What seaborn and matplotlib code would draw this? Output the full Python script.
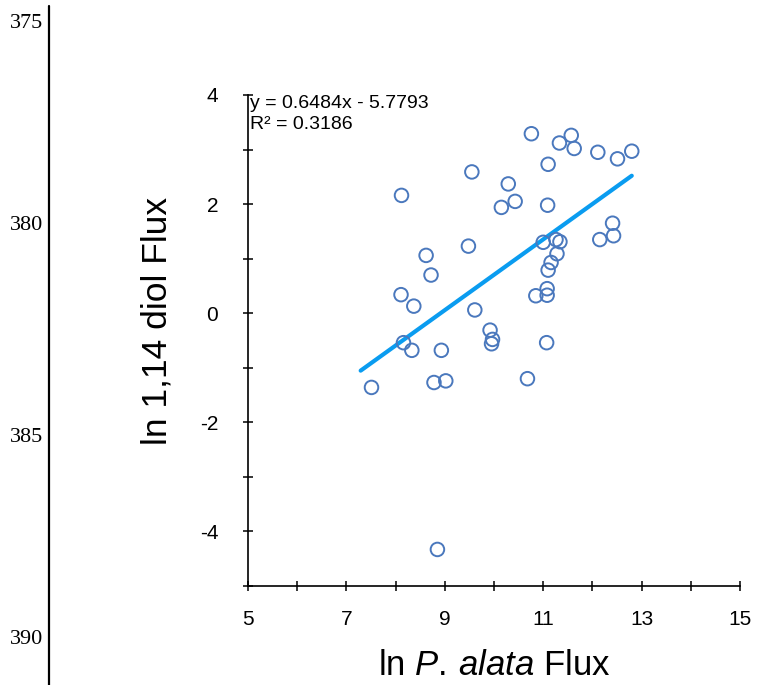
import numpy as np
import pandas as pd
import matplotlib
matplotlib.use("Agg")
import matplotlib.pyplot as plt
import seaborn as sns

# ---- data ----
ln_palata = [9.55, 8.12, 10.15, 9.48, 8.62, 8.72, 8.11, 8.37, 9.61,
             10.76, 11.33, 11.57, 11.63, 12.11, 12.51, 12.80, 11.10, 10.29,
             10.43, 11.09, 12.41, 12.43, 12.15, 11.00, 11.26, 11.34, 11.28,
             11.16, 11.10, 11.08, 10.85, 11.08, 11.07, 9.92, 9.97, 9.95,
             8.16, 8.33, 8.93, 7.51, 8.78, 9.02, 10.68, 8.85]
ln_diol = [2.59, 2.16, 1.94, 1.23, 1.06, 0.70, 0.34, 0.13, 0.06,
           3.29, 3.12, 3.26, 3.02, 2.95, 2.83, 2.97, 2.73, 2.37,
           2.05, 1.98, 1.65, 1.42, 1.35, 1.30, 1.35, 1.31, 1.09,
           0.93, 0.79, 0.45, 0.32, 0.33, -0.54, -0.31, -0.48, -0.56,
           -0.54, -0.68, -0.68, -1.36, -1.27, -1.24, -1.20, -4.33]
trend_slope = 0.6484
trend_intercept = -5.7793
trend_x = [7.29, 12.80]
equation_text = "y = 0.6484x - 5.7793"
r2_text = "R² = 0.3186"
x_ticks = [5, 6, 7, 8, 9, 10, 11, 12, 13, 14, 15]
x_tick_labels = ["5", "", "7", "", "9", "", "11", "", "13", "", "15"]
y_ticks = [-5, -4, -3, -2, -1, 0, 1, 2, 3, 4]
y_tick_labels = ["", "-4", "", "-2", "", "0", "", "2", "", "4"]
line_numbers = ["375", "380", "385", "390"]
line_number_y_px = [24, 226, 437, 640]

# ---- style ----
sns.set_style("ticks")
plt.rcParams["font.family"] = ["Liberation Sans", "DejaVu Sans"]
plt.rcParams["axes.unicode_minus"] = False
plt.rcParams["mathtext.fontset"] = "custom"
plt.rcParams["mathtext.rm"] = "Liberation Sans"
plt.rcParams["mathtext.it"] = "Liberation Sans:italic"

W, H = 759, 685
fig = plt.figure(figsize=(W / 100, H / 100), dpi=100)
ax_l, ax_r, ax_t, ax_b = 248, 740, 95, 586
ax = fig.add_axes([ax_l / W, 1 - ax_b / H, (ax_r - ax_l) / W, (ax_b - ax_t) / H])

df = pd.DataFrame({"x": ln_palata, "y": ln_diol})
sns.scatterplot(data=df, x="x", y="y", ax=ax, marker="o", s=95,
                facecolor="none", edgecolor="#4a78bd", linewidth=1.4, zorder=3)

tx = np.array(trend_x)
trend_df = pd.DataFrame({"x": tx, "y": trend_slope * tx + trend_intercept})
sns.lineplot(data=trend_df, x="x", y="y", ax=ax, color="#0a9cf0", linewidth=3.0, zorder=2)

ax.set_xlim(5, 15)
ax.set_ylim(-5, 4)
ax.set_xticks(x_ticks)
ax.set_xticklabels(x_tick_labels)
ax.set_yticks(y_ticks)
ax.set_yticklabels(y_tick_labels)
ax.tick_params(axis="both", direction="inout", length=7, width=1.1, color="black",
               labelsize=15, labelcolor="black")
ax.tick_params(axis="x", pad=14)
ax.tick_params(axis="y", pad=18)
sns.despine(ax=ax)
for s in ["left", "bottom"]:
    ax.spines[s].set_linewidth(1.2)
    ax.spines[s].set_color("black")

ax.set_xlabel(r"ln $P.\,alata$ Flux", fontsize=25, color="black")
ax.set_ylabel("ln 1,14 diol Flux", fontsize=25.5, color="black")
ax.xaxis.set_label_coords(0.5, -0.128)
ax.yaxis.set_label_coords(-0.152, 0.54)

ax.text(0.004, 1.0, equation_text + "\n" + r2_text, transform=ax.transAxes,
        ha="left", va="top", fontsize=14, color="black", linespacing=1.3)

# manuscript line numbers and margin line
for lab, ypx in zip(line_numbers, line_number_y_px):
    fig.text(43 / W, 1 - ypx / H, lab, ha="right", va="center", fontsize=16,
             family=["Liberation Serif", "DejaVu Serif"], color="black")
fig.add_artist(plt.Line2D([49 / W, 49 / W], [0, 1 - 6 / H], transform=fig.transFigure,
                          color="black", linewidth=1.6))

fig.savefig("out.png", dpi=100)
